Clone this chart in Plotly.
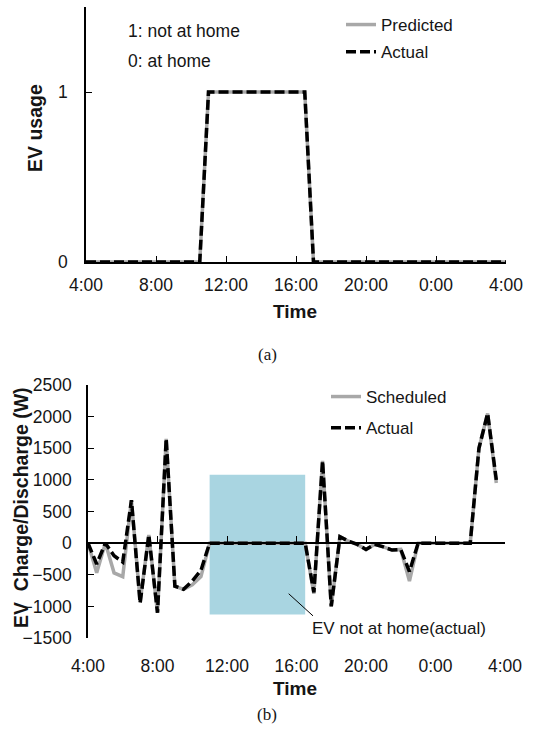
import plotly.graph_objects as go

# ---------------- data ----------------
tick_vals = [0, 4, 8, 12, 16, 20, 24]
tick_text = ["4:00", "8:00", "12:00", "16:00", "20:00", "0:00", "4:00"]

# half-hour steps, hours after 4:00
hours_top = [i * 0.5 for i in range(49)]
hours_bot = [i * 0.5 for i in range(48)]

usage_predicted = [0, 0, 0, 0, 0, 0, 0, 0, 0, 0, 0, 0, 0, 0,
                   1, 1, 1, 1, 1, 1, 1, 1, 1, 1, 1, 1,
                   0, 0, 0, 0, 0, 0, 0, 0, 0, 0, 0, 0, 0, 0, 0, 0, 0, 0, 0, 0, 0, 0, 0]
usage_actual = [0, 0, 0, 0, 0, 0, 0, 0, 0, 0, 0, 0, 0, 0,
                1, 1, 1, 1, 1, 1, 1, 1, 1, 1, 1, 1,
                0, 0, 0, 0, 0, 0, 0, 0, 0, 0, 0, 0, 0, 0, 0, 0, 0, 0, 0, 0, 0, 0, 0]

power_scheduled = [0, -470, 0, -470, -530, 680, -930, 130, -1100, 1650, -680, -730, -660, -530,
                   0, 0, 0, 0, 0, 0, 0, 0, 0, 0, 0, 0,
                   -800, 1300, -1000, 100, 30, -20, -100, -20, -60, -110, -100, -600,
                   0, 0, 0, 0, 0, 0, 0, 1500, 2050, 950]
power_actual = [0, -330, 0, -200, -300, 680, -950, 130, -1100, 1650, -680, -730, -600, -430,
                0, 0, 0, 0, 0, 0, 0, 0, 0, 0, 0, 0,
                -780, 1300, -1000, 100, 30, -20, -100, -20, -60, -110, -100, -450,
                0, 0, 0, 0, 0, 0, 0, 1500, 2050, 1000]

away_start, away_end = 7.0, 12.5      # 11:00 - 16:30
away_low, away_high = -1130, 1080

# ---------------- layout helpers ----------------
W, H = 533, 732
def px_x(p): return p / W
def px_y(p): return (H - p) / H

FONT = "Liberation Sans, Arial, sans-serif"
GREY = "#A8A8A8"
BLUE = "#A9D5E1"
TXT = "#151515"

top_dom_y = [px_y(262), px_y(7)]
bot_dom_y = [px_y(638), px_y(385)]
y2_range = [-1500, 2500]
zero_pos = bot_dom_y[0] + (0 - y2_range[0]) / (y2_range[1] - y2_range[0]) * (bot_dom_y[1] - bot_dom_y[0])

fig = go.Figure()

fig.add_trace(go.Scatter(x=hours_top, y=usage_predicted, mode="lines", name="Predicted",
                         line=dict(color=GREY, width=3.5), xaxis="x", yaxis="y",
                         legend="legend", legendgroup="a1"))
fig.add_trace(go.Scatter(x=hours_top, y=usage_actual, mode="lines", name="Actual",
                         line=dict(color="black", width=3.5, dash="10px,4px"), xaxis="x", yaxis="y",
                         legend="legend", legendgroup="a2"))
fig.add_trace(go.Scatter(x=hours_bot, y=power_scheduled, mode="lines", name="Scheduled",
                         line=dict(color=GREY, width=3.5), xaxis="x2", yaxis="y2",
                         legend="legend2", legendgroup="b1"))
fig.add_trace(go.Scatter(x=hours_bot, y=power_actual, mode="lines", name="Actual",
                         line=dict(color="black", width=3.5, dash="10px,4px"), xaxis="x2", yaxis="y2",
                         legend="legend2", legendgroup="b2"))

tickfont = dict(family=FONT, size=17.5, color=TXT)
common_x = dict(range=[0, 24], tickvals=tick_vals, ticktext=tick_text, tickfont=tickfont,
                showgrid=False, zeroline=False, automargin=False)

fig.update_layout(
    width=W, height=H, autosize=False,
    margin=dict(l=0, r=0, t=0, b=0, autoexpand=False),
    paper_bgcolor="white", plot_bgcolor="white",
    font=dict(family=FONT, size=17, color=TXT),
    xaxis=dict(domain=[px_x(86), px_x(506)], anchor="y", showline=True, linecolor="black",
               linewidth=1.5, ticks="inside", ticklen=6, tickcolor="black",
               ticklabelstandoff=6, **common_x),
    yaxis=dict(domain=top_dom_y, anchor="x", range=[0, 1.5], tickvals=[0, 1], ticktext=["0", "1"],
               showline=True, linecolor="black", linewidth=1.5, ticks="inside", ticklen=6,
               tickcolor="black", showgrid=False, zeroline=False, tickfont=tickfont,
               ticklabelstandoff=13, automargin=False),
    xaxis2=dict(domain=[px_x(88), px_x(505)], anchor="y2", showline=False, ticks="",
                ticklabelstandoff=15, **common_x),
    xaxis3=dict(overlaying="x2", anchor="free", position=zero_pos, range=[0, 24],
                tickvals=tick_vals, showticklabels=False, showline=True, linecolor="black",
                linewidth=1.5, ticks="inside", ticklen=6, tickcolor="black",
                showgrid=False, zeroline=False, automargin=False),
    yaxis2=dict(domain=bot_dom_y, anchor="x2", range=y2_range, dtick=500,
                showline=True, linecolor="black", linewidth=1.5, ticks="inside", ticklen=6,
                tickcolor="black", showgrid=False, zeroline=False, tickfont=tickfont,
                ticklabelstandoff=11, automargin=False),
    legend=dict(x=px_x(341), y=px_y(7), xanchor="left", yanchor="top",
                bgcolor="rgba(0,0,0,0)", font=dict(family=FONT, size=17, color=TXT),
                tracegroupgap=2, itemwidth=30),
    legend2=dict(x=px_x(326), y=px_y(379), xanchor="left", yanchor="top",
                 bgcolor="rgba(0,0,0,0)", font=dict(family=FONT, size=17, color=TXT),
                 tracegroupgap=6, itemwidth=30),
)

fig.add_trace(go.Scatter(x=[0], y=[0], xaxis="x3", yaxis="y2", mode="markers",
                         marker=dict(opacity=0), showlegend=False, hoverinfo="skip"))

fig.add_shape(type="rect", xref="x2", yref="y2", x0=away_start, x1=away_end,
              y0=away_low, y1=away_high, fillcolor=BLUE, line=dict(width=0), layer="below")
fig.add_shape(type="line", xref="x2", yref="y2", x0=11.55, y0=-800, x1=12.95, y1=-1150,
              line=dict(color="black", width=1))

annots = [
    dict(text="1: not at home", x=px_x(126), y=px_y(31), xanchor="left", size=17.5),
    dict(text="0: at home", x=px_x(126), y=px_y(61), xanchor="left", size=17.5),
    dict(text="<b>Time</b>", x=px_x(295), y=px_y(311), xanchor="center", size=19),
    dict(text="<b>EV usage</b>", x=px_x(35), y=px_y(128), xanchor="center", size=19.5, angle=-90),
    dict(text="<b>Time</b>", x=px_x(295), y=px_y(688), xanchor="center", size=19),
    dict(text="<b>EV\u00a0\u00a0Charge/Discharge (W)</b>", x=px_x(21), y=px_y(508), xanchor="center",
         size=19.5, angle=-90),
    dict(text="EV not at home(actual)", x=px_x(310), y=px_y(628), xanchor="left", size=17),
]
for a in annots:
    fig.add_annotation(text=a["text"], x=a["x"], y=a["y"], xref="paper", yref="paper",
                       xanchor=a["xanchor"], yanchor="middle", showarrow=False,
                       textangle=a.get("angle", 0),
                       font=dict(family=FONT, size=a.get("size", 17), color=TXT))

for lbl, yy in [("(a)", 354), ("(b)", 714)]:
    fig.add_annotation(text=lbl, x=px_x(267), y=px_y(yy), xref="paper", yref="paper",
                       xanchor="center", yanchor="middle", showarrow=False,
                       font=dict(family="Liberation Serif, Times New Roman, serif", size=17,
                                 color=TXT))

fig.write_html("out.html")
